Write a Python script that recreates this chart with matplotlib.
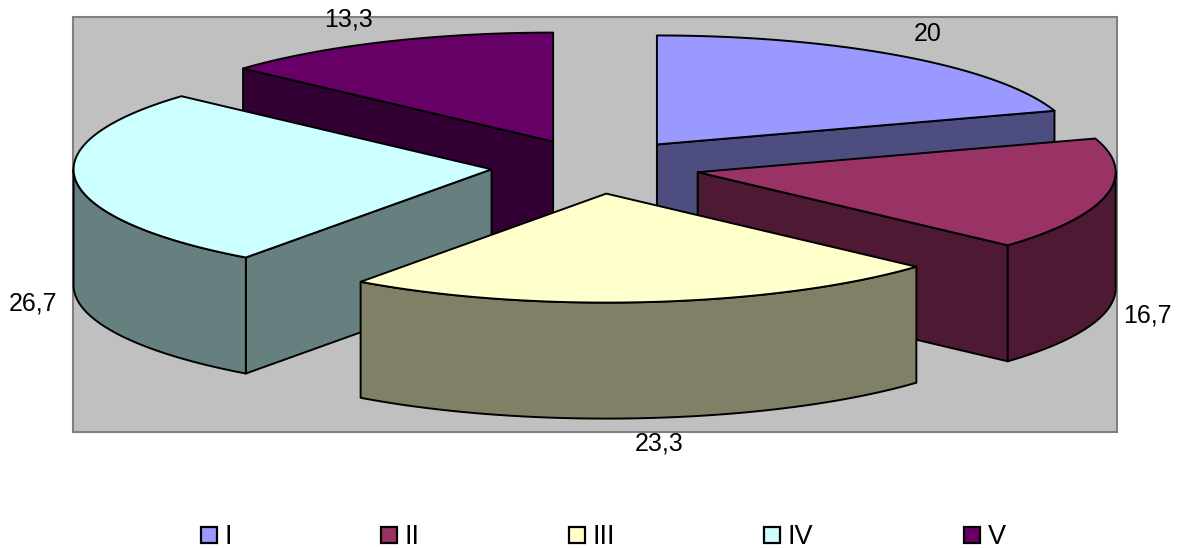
import numpy as np
import matplotlib
matplotlib.use("Agg")
import matplotlib.pyplot as plt
from matplotlib.patches import Polygon, Rectangle

categories = ["I", "II", "III", "IV", "V"]
values = [20, 16.7, 23.3, 26.7, 13.3]
value_labels = ["20", "16,7", "23,3", "26,7", "13,3"]

top_colors = ["#9999FF", "#993366", "#FFFFCC", "#CCFFFF", "#660066"]
side_colors = ["#4D4D80", "#4D1933", "#808066", "#668080", "#330033"]

# label anchor points, in pixels
label_x = [928, 1147, 659, 33, 349]
label_y = [34, 316, 444, 303, 20]
legend_x = [200, 380, 568, 763, 963]

CX, CY = 595.5, 166.5  # pie centre before the explosion
A, B = 418, 109        # ellipse radii
DEPTH = 116
EXPLODE = 0.25
LINE = 1.4

plt.rcParams["font.family"] = ["Liberation Sans", "DejaVu Sans"]

fig = plt.figure(figsize=(11.83, 5.48), dpi=100)
ax = fig.add_axes([0, 0, 1, 1])
ax.set_xlim(0, 1183)
ax.set_ylim(548, 0)
ax.axis("off")

ax.add_patch(Rectangle((73, 17), 1044, 415, fc="#C0C0C0", ec="#808080", lw=1.5, zorder=0))


def rim(cx, cy, t1, t2):
    t = np.radians(np.linspace(t1, t2, 80))
    return np.column_stack([cx + A * np.sin(t), cy - B * np.cos(t)])


def draw_slice(i, t1, t2):
    mid = np.radians((t1 + t2) / 2)
    cx = CX + EXPLODE * A * np.sin(mid)
    cy = CY - EXPLODE * B * np.cos(mid)
    style = dict(fc=side_colors[i], ec="black", lw=LINE, joinstyle="round")

    # cut faces that turn towards the viewer
    for t in (t1, t2):
        visible = np.sin(np.radians(t)) < -1e-6 if t == t1 else np.sin(np.radians(t)) > 1e-6
        if visible:
            p = rim(cx, cy, t, t)[0]
            ax.add_patch(Polygon([(cx, cy), p, (p[0], p[1] + DEPTH), (cx, cy + DEPTH)], **style))

    # outer wall, front half only
    lo, hi = max(t1, 90), min(t2, 270)
    if lo < hi:
        edge = rim(cx, cy, lo, hi)
        ax.add_patch(Polygon(np.vstack([edge, (edge + [0, DEPTH])[::-1]]), **style))

    top = np.vstack([[(cx, cy)], rim(cx, cy, t1, t2)])
    ax.add_patch(Polygon(top, fc=top_colors[i], ec="black", lw=LINE, joinstyle="round"))


edges = np.concatenate([[0], np.cumsum(values)]) / sum(values) * 360
for i in [4, 0, 3, 1, 2]:
    draw_slice(i, edges[i], edges[i + 1])

for x, y, s in zip(label_x, label_y, value_labels):
    ax.text(x, y, s, fontsize=18, ha="center", va="center", color="black")

for x, name, c in zip(legend_x, categories, top_colors):
    ax.add_patch(Rectangle((x + 1, 527), 16, 16, fc=c, ec="black", lw=1.6))
    ax.text(x + 25, 544, name, fontsize=19.5, ha="left", va="baseline", color="black")

fig.savefig("out.png", dpi=100)
